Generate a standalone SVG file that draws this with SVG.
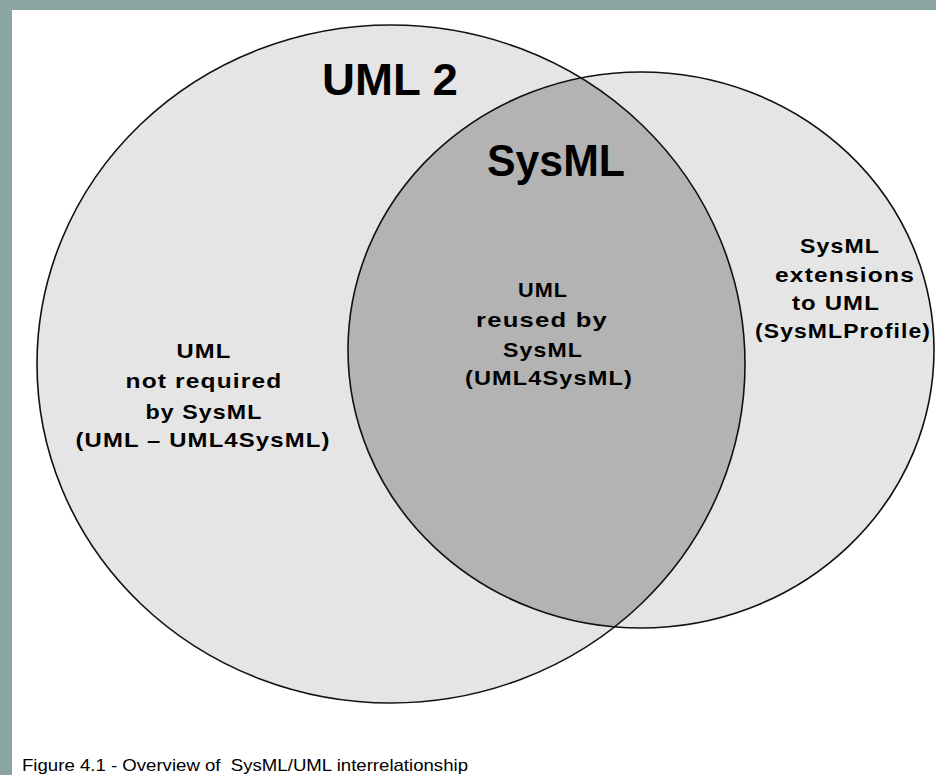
<svg xmlns="http://www.w3.org/2000/svg" width="936" height="775" viewBox="0 0 936 775">
  <style>
    .set { fill: #e5e5e5; }
    .edge { fill: none; stroke: #111; stroke-width: 1.6; }
    .title { font-family: "Liberation Sans", Arial, sans-serif; font-weight: bold; font-size: 44px; fill: #000; }
    .lbl { font-family: "Liberation Sans", Arial, sans-serif; font-weight: bold; font-size: 21px; letter-spacing: 1px; fill: #000; text-anchor: middle; }
    .cap { font-family: "Liberation Sans", Arial, sans-serif; font-size: 17px; fill: #000; white-space: pre; }
  </style>
  <defs>
    <clipPath id="clip-uml">
      <ellipse cx="391" cy="364" rx="354" ry="339"/>
    </clipPath>
  </defs>

  <!-- frame -->
  <rect x="0" y="0" width="936" height="775" fill="#8ba5a3"/>
  <rect x="12" y="10" width="924" height="765" fill="#ffffff"/>

  <!-- UML 2 set -->
  <g id="uml2">
    <ellipse class="set" cx="391" cy="364" rx="354" ry="339"/>
  </g>

  <!-- SysML set, with the shared region darkened -->
  <g id="sysml">
    <ellipse class="set" cx="641" cy="350" rx="293" ry="278"/>
    <ellipse cx="641" cy="350" rx="293" ry="278" fill="#b3b3b3" clip-path="url(#clip-uml)"/>
  </g>

  <!-- outlines -->
  <g id="outlines">
    <ellipse class="edge" cx="391" cy="364" rx="354" ry="339"/>
    <ellipse class="edge" cx="641" cy="350" rx="293" ry="278"/>
  </g>

  <!-- set titles -->
  <g id="titles">
    <text class="title" x="322" y="95" textLength="136" lengthAdjust="spacingAndGlyphs">UML 2</text>
    <text class="title" x="487" y="176" textLength="138" lengthAdjust="spacingAndGlyphs">SysML</text>
  </g>

  <!-- region labels -->
  <g id="label-uml-only">
    <text class="lbl" x="204" y="358" textLength="55" lengthAdjust="spacingAndGlyphs">UML</text>
    <text class="lbl" x="204" y="388" textLength="157" lengthAdjust="spacingAndGlyphs">not required</text>
    <text class="lbl" x="204" y="419" textLength="117" lengthAdjust="spacingAndGlyphs">by SysML</text>
    <text class="lbl" x="203" y="447" textLength="255" lengthAdjust="spacingAndGlyphs">(UML – UML4SysML)</text>
  </g>
  <g id="label-shared">
    <text class="lbl" x="543" y="297" textLength="50" lengthAdjust="spacingAndGlyphs">UML</text>
    <text class="lbl" x="542" y="327" textLength="132" lengthAdjust="spacingAndGlyphs">reused by</text>
    <text class="lbl" x="543" y="357" textLength="80" lengthAdjust="spacingAndGlyphs">SysML</text>
    <text class="lbl" x="549" y="385" textLength="168" lengthAdjust="spacingAndGlyphs">(UML4SysML)</text>
  </g>
  <g id="label-extensions">
    <text class="lbl" x="840" y="253" textLength="80" lengthAdjust="spacingAndGlyphs">SysML</text>
    <text class="lbl" x="845" y="282" textLength="140" lengthAdjust="spacingAndGlyphs">extensions</text>
    <text class="lbl" x="836" y="310" textLength="88" lengthAdjust="spacingAndGlyphs">to UML</text>
    <text class="lbl" x="843" y="338" textLength="176" lengthAdjust="spacingAndGlyphs">(SysMLProfile)</text>
  </g>

  <!-- caption -->
  <text class="cap" x="22" y="771" textLength="446" lengthAdjust="spacingAndGlyphs">Figure 4.1 - Overview of  SysML/UML interrelationship</text>
</svg>
